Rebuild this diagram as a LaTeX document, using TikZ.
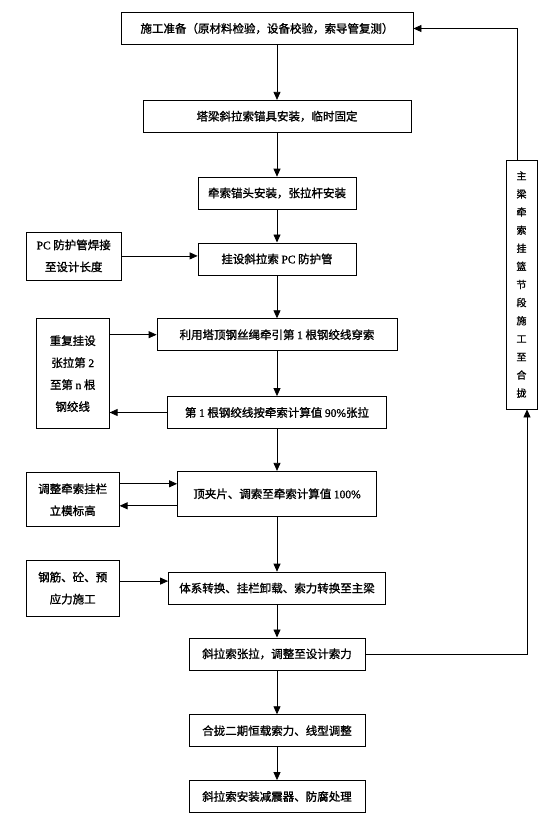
\documentclass[tikz,border=0pt]{standalone}
\usepackage{fontspec}
\setmainfont{Liberation Serif}[FakeBold=1.2]
\newfontfamily\cjk{Noto Sans CJK SC}[FakeBold=1.2]
\usetikzlibrary{arrows.meta,positioning}

\newcommand{\ltxt}[1]{{\rmfamily #1}}

\begin{document}
\begin{tikzpicture}[->,>={Triangle[length=8pt,width=7pt]}, line width=0.8pt, font=\cjk\fontsize{11.5pt}{14pt}\selectfont]

    \tikzstyle{stepbox}=[draw=black, fill=white, minimum height=32pt, inner sep=2pt, align=center]
    \tikzstyle{sidebox}=[stepbox, font=\cjk\fontsize{11.5pt}{22pt}\selectfont]

    \useasboundingbox (0,0) rectangle (553pt,-818pt);

    % main chain
    \node[stepbox, minimum width=292pt] (b1) at (267pt,-28.5pt) {施工准备（原材料检验，设备校验，索导管复测）};
    \node[stepbox, minimum width=268pt] (b2) [below=55pt of b1, xshift=10pt] {塔梁斜拉索锚具安装，临时固定};
    \node[stepbox, minimum width=158pt] (b3) [below=44pt of b2] {牵索锚头安装，张拉杆安装};
    \node[stepbox, minimum width=158pt] (b4) [below=33pt of b3] {挂设斜拉索 \ltxt{PC} 防护管};
    \node[stepbox, minimum width=240pt] (b5) [below=43pt of b4] {利用塔顶钢丝绳牵引第 \ltxt{1} 根钢绞线穿索};
    \node[stepbox, minimum width=219pt] (b6) [below=45pt of b5] {第 \ltxt{1} 根钢绞线按牵索计算值 \ltxt{90\%}张拉};
    \node[stepbox, minimum width=199pt, minimum height=45pt] (b7) [below=42pt of b6] {顶夹片、调索至牵索计算值 \ltxt{100\%}};
    \node[stepbox, minimum width=217pt] (b8) [below=55pt of b7] {体系转换、挂栏卸载、索力转换至主梁};
    \node[stepbox, minimum width=176pt] (b9) [below=33pt of b8] {斜拉索张拉，调整至设计索力};
    \node[stepbox, minimum width=176pt] (b10) [below=44pt of b9] {合拢二期恒载索力、线型调整};
    \node[stepbox, minimum width=176pt] (b11) [below=33pt of b10] {斜拉索安装减震器、防腐处理};

    % side inputs
    \node[sidebox, minimum width=95pt, minimum height=48pt] (pc) [left=76pt of b4, yshift=3pt] {\ltxt{PC} 防护管焊接\\至设计长度};
    \node[sidebox, minimum width=73pt, minimum height=110pt] (rep) [below left=0pt and 47pt of b5.north west] {重复挂设\\张拉第 \ltxt{2}\\至第 \ltxt{n} 根\\钢绞线};
    \node[sidebox, minimum width=93pt, minimum height=54pt] (adj) [left=57.5pt of b7, yshift=-6pt] {调整牵索挂栏\\立模标高};
    \node[sidebox, minimum width=93pt, minimum height=56pt] (rebar) [left=48.5pt of b8] {钢筋、砼、预\\应力施工};

    % loop back
    \node[stepbox, minimum width=31pt, minimum height=249pt, font=\cjk\fontsize{10pt}{18.1pt}\selectfont] (loop) at (521.5pt,-284.5pt)
        {主\\梁\\牵\\索\\挂\\篮\\节\\段\\施\\工\\至\\合\\拢};

    \path (b1.south -| b2) edge (b2)
          (b2) edge (b3)
          (b3) edge (b4)
          (b4) edge (b5)
          (b5) edge (b6)
          (b6) edge (b7)
          (b7) edge (b8)
          (b8) edge (b9)
          (b9) edge (b10)
          (b10) edge (b11)
          (pc) edge (pc -| b4.west)
          (rep.east |- b5) edge (b5)
          (b6) edge (b6 -| rep.east)
          ([yshift=10pt]b7.west -| adj.east) edge ([yshift=10pt]b7.west)
          ([yshift=-12pt]b7.west) edge ([yshift=-12pt]b7.west -| adj.east)
          ([yshift=7pt]rebar.east) edge ([yshift=7pt]rebar.east -| b8.west)
    ;
    \draw ([xshift=-4pt]loop.north) |- (b1.east);
    \draw (b9) -| ([xshift=5.5pt]loop.south);
\end{tikzpicture}
\end{document}
